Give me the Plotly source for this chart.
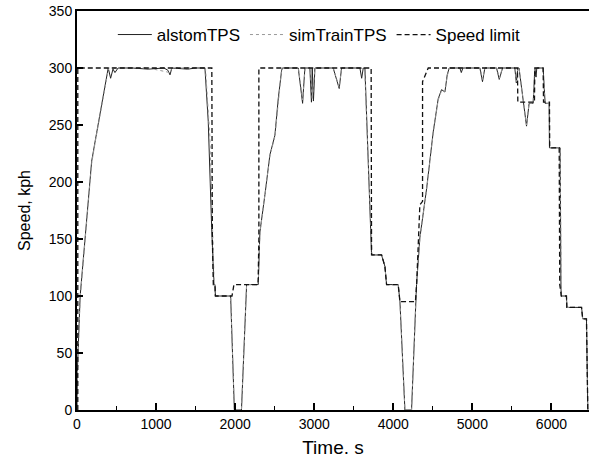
import plotly.graph_objects as go

# ---- data ----
alstom_t = [0, 5, 40, 100, 185, 230, 310, 375, 395, 425, 455, 480, 520, 700, 900, 1100, 1150, 1176, 1200,
            1400, 1500, 1618, 1660, 1703, 1732, 1745, 1750, 1943, 1990, 2080, 2145, 2292, 2313, 2377, 2440,
            2503, 2545, 2588, 2600, 2798, 2853, 2882, 2945, 2965, 2975, 2990, 3000, 3009, 3240, 3316, 3346,
            3578, 3600, 3620, 3641, 3725, 3852, 3894, 3915, 4062, 4084, 4147, 4231, 4294, 4336, 4421, 4505,
            4568, 4610, 4653, 4682, 4707, 4842, 4860, 4880, 5095, 5128, 5158, 5306, 5340, 5382, 5537, 5556,
            5575, 5590, 5685, 5718, 5769, 5790, 5805, 5815, 5895, 5920, 5971, 5975, 6110, 6120, 6125, 6190,
            6195, 6381, 6395, 6443, 6460]
alstom_v = [0, 35, 100, 150, 218, 236, 268, 294, 300, 291, 299, 296, 300, 300, 299, 300, 298, 294, 300,
            299, 300, 300, 253, 160, 110, 110, 100, 100, 0, 0, 110, 110, 156, 189, 224,
            241, 273, 298, 300, 300, 269, 300, 300, 270, 300, 271, 300, 300, 300, 282, 300,
            300, 291, 300, 300, 136, 136, 126, 110, 110, 95, 0, 0, 110, 151, 194, 244,
            273, 281, 279, 294, 300, 300, 296, 300, 300, 288, 300, 300, 290, 300, 300, 287,
            300, 300, 249, 269, 269, 300, 292, 300, 300, 269, 269, 230, 230, 110, 100, 100,
            90, 90, 80, 80, 0]

sim_t = [0, 5, 40, 100, 185, 230, 310, 375, 400, 520, 900, 1176, 1200, 1500, 1625, 1680, 1712, 1735,
         1750, 1943, 1990, 2080, 2145, 2292, 2313, 2377, 2440, 2503, 2545, 2590, 2800, 2853, 2885, 2950,
         2975, 3009, 3240, 3316, 3346, 3600, 3640, 3730, 3852, 3894, 3915, 4062, 4084, 4147, 4231, 4294,
         4336, 4421, 4505, 4568, 4610, 4653, 4682, 4710, 5100, 5128, 5158, 5310, 5340, 5380, 5540, 5556,
         5575, 5590, 5685, 5718, 5769, 5790, 5895, 5920, 5971, 5975, 6110, 6120, 6125, 6190, 6195, 6381,
         6395, 6443, 6460]
sim_v = [0, 33, 98, 148, 216, 235, 267, 293, 300, 300, 300, 296, 300, 300, 300, 240, 150, 110,
         100, 100, 0, 0, 110, 110, 155, 188, 223, 240, 272, 300, 300, 272, 300, 300,
         272, 300, 300, 283, 300, 300, 296, 136, 136, 126, 110, 110, 95, 0, 0, 110,
         150, 193, 243, 272, 280, 279, 293, 300, 300, 290, 300, 300, 291, 300, 300, 288,
         300, 300, 250, 269, 269, 300, 300, 269, 269, 230, 230, 110, 100, 100, 90, 90,
         80, 80, 0]

limit_t = [10, 10, 1705, 1712, 1724, 1745, 1750, 1960, 1985, 2290, 2300, 2300, 3720, 3725, 3852, 3894,
           3915, 4062, 4084, 4280, 4295, 4336, 4370, 4370, 4442, 5570, 5575, 5785, 5790, 5895, 5900,
           5975, 5978, 6098, 6105, 6125, 6190, 6195, 6381, 6395, 6443, 6460]
limit_v = [0, 300, 300, 150, 110, 110, 100, 100, 110, 110, 150, 300, 300, 136, 136, 126,
           110, 110, 95, 95, 110, 180, 183, 288, 300, 300, 270, 270, 300, 300, 270,
           270, 230, 230, 110, 100, 100, 90, 90, 80, 80, 0]

x_ticks = [0, 1000, 2000, 3000, 4000, 5000, 6000]
y_ticks = [0, 50, 100, 150, 200, 250, 300, 350]

FONT = "Liberation Sans, Arial, sans-serif"

fig = go.Figure()
fig.add_trace(go.Scatter(x=alstom_t, y=alstom_v, mode="lines", name="alstomTPS",
                         line=dict(color="#222222", width=1)))
fig.add_trace(go.Scatter(x=sim_t, y=sim_v, mode="lines", name="simTrainTPS",
                         line=dict(color="#999999", width=1, dash="dot")))
fig.add_trace(go.Scatter(x=limit_t, y=limit_v, mode="lines", name="Speed limit",
                         line=dict(color="#111111", width=1.3, dash="5px,3px")))

fig.update_layout(
    width=589, height=466,
    margin=dict(l=77, r=0, t=11, b=56),
    paper_bgcolor="white", plot_bgcolor="white",
    font=dict(family=FONT, color="black", size=14),
    showlegend=True,
    legend=dict(orientation="h", x=0.070, y=0.985, xanchor="left", yanchor="top",
                bgcolor="rgba(0,0,0,0)", font=dict(size=17, family=FONT),
                itemwidth=34, tracegroupgap=0),
    xaxis=dict(range=[0, 6475], tickvals=x_ticks, ticktext=[str(v) for v in x_ticks],
               ticks="inside", ticklen=7, tickwidth=1.5, tickcolor="black",
               minor=dict(dtick=500, tick0=0, ticks="inside", ticklen=4, tickwidth=1, tickcolor="black"),
               showline=True, linecolor="black", linewidth=2, mirror=True,
               showgrid=False, zeroline=False, automargin=False,
               tickfont=dict(size=14),
               title=dict(text="Time. s", font=dict(size=19), standoff=10)),
    yaxis=dict(range=[0, 350], tickvals=y_ticks, ticktext=[str(v) for v in y_ticks],
               ticks="inside", ticklen=6, tickwidth=1.5, tickcolor="black",
               showline=True, linecolor="black", linewidth=2, mirror=False,
               showgrid=False, zeroline=False, automargin=False,
               tickfont=dict(size=14),
               title=dict(text="Speed, kph", font=dict(size=16), standoff=14)),
)

fig.write_html("out.html", config={"displayModeBar": False},
               post_script="document.body.style.margin='0';document.body.style.overflow='hidden';")
